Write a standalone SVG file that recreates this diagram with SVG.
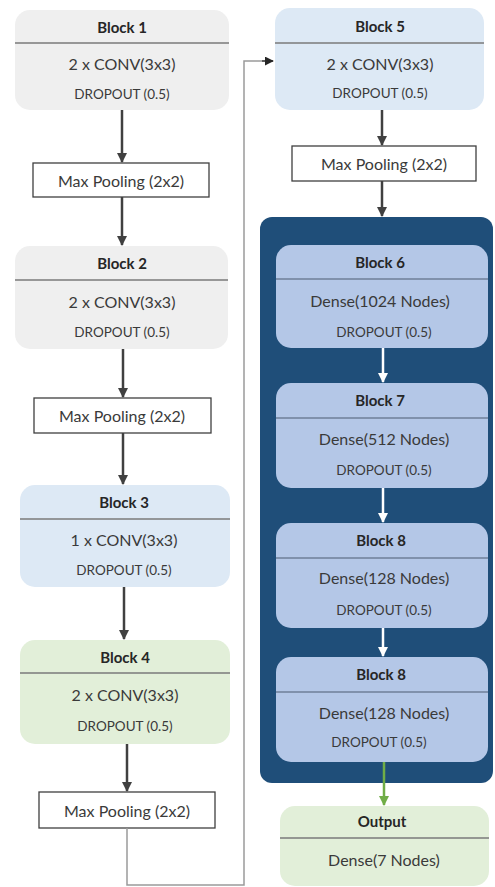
<svg xmlns="http://www.w3.org/2000/svg" width="495" height="887" viewBox="0 0 495 887">
<defs>
<style>
text{font-family:Lato,"Liberation Sans",sans-serif;fill:#3a3a3a;text-anchor:middle;dominant-baseline:central}
.t{font-weight:bold;font-size:15px;fill:#262626}
.m{font-size:16px}
.d{font-size:13.5px}
.grey{fill:#efefef}
.blue{fill:#dde9f5}
.green{fill:#e2efd9}
.dense{fill:#b4c7e7}
.hl{stroke:#7a7a7a;stroke-width:1.5}
.hd{stroke:#6f7f99;stroke-width:1.5}
.mp{fill:#fff;stroke:#3f3f3f;stroke-width:1.3}
.a{stroke:#404040;stroke-width:2.5;fill:none}
.w{stroke:#fff;stroke-width:2.5;fill:none}
.g{stroke:#70ad47;stroke-width:2.5;fill:none}
.c{stroke:#9a9a9a;stroke-width:1.5;fill:none}
</style>
<marker id="ah" viewBox="0 0 10 10" refX="9" refY="5" markerWidth="4" markerHeight="4" orient="auto" markerUnits="strokeWidth"><path d="M0,0L10,5L0,10z" fill="#404040"/></marker>
<marker id="aw" viewBox="0 0 10 10" refX="9" refY="5" markerWidth="4" markerHeight="4" orient="auto" markerUnits="strokeWidth"><path d="M0,0L10,5L0,10z" fill="#fff"/></marker>
<marker id="ag" viewBox="0 0 10 10" refX="9" refY="5" markerWidth="4" markerHeight="4" orient="auto" markerUnits="strokeWidth"><path d="M0,0L10,5L0,10z" fill="#70ad47"/></marker>
<marker id="ac" viewBox="0 0 10 10" refX="9" refY="5" markerWidth="6" markerHeight="6" orient="auto" markerUnits="strokeWidth"><path d="M0,0L10,5L0,10z" fill="#262626"/></marker>
</defs>
<rect width="495" height="887" fill="#fff"/>

<g id="container">
<rect x="260" y="217" width="233" height="566" rx="12" fill="#1f4e79"/>
</g>

<g id="block1">
<rect class="grey" x="15" y="10" width="214" height="100" rx="15"/>
<line class="hl" x1="15" y1="43" x2="229" y2="43"/>
<text class="t" x="122" y="27">Block 1</text>
<text class="m" x="122" y="63">2 x CONV(3x3)</text>
<text class="d" x="122" y="94">DROPOUT (0.5)</text>
</g>
<g id="pool1">
<rect class="mp" x="33" y="163" width="176" height="34"/>
<text class="m" x="121" y="180">Max Pooling (2x2)</text>
</g>
<g id="block2">
<rect class="grey" x="15" y="246" width="213" height="103" rx="15"/>
<line class="hl" x1="15" y1="280" x2="228" y2="280"/>
<text class="t" x="122" y="263">Block 2</text>
<text class="m" x="122" y="301">2 x CONV(3x3)</text>
<text class="d" x="122" y="332">DROPOUT (0.5)</text>
</g>
<g id="pool2">
<rect class="mp" x="34" y="398" width="177" height="35"/>
<text class="m" x="122" y="415.5">Max Pooling (2x2)</text>
</g>
<g id="block3">
<rect class="blue" x="20" y="485" width="210" height="102" rx="15"/>
<line class="hl" x1="20" y1="519" x2="230" y2="519"/>
<text class="t" x="124" y="502">Block 3</text>
<text class="m" x="124" y="539">1 x CONV(3x3)</text>
<text class="d" x="124" y="570">DROPOUT (0.5)</text>
</g>
<g id="block4">
<rect class="green" x="20" y="640" width="210" height="104" rx="15"/>
<line class="hl" x1="20" y1="673" x2="230" y2="673"/>
<text class="t" x="125" y="657">Block 4</text>
<text class="m" x="125" y="694">2 x CONV(3x3)</text>
<text class="d" x="125" y="726">DROPOUT (0.5)</text>
</g>
<g id="pool3">
<rect class="mp" x="39" y="792" width="176" height="36"/>
<text class="m" x="127" y="810">Max Pooling (2x2)</text>
</g>

<g id="block5">
<rect class="blue" x="275" y="8" width="209" height="102" rx="15"/>
<line class="hl" x1="275" y1="43" x2="484" y2="43"/>
<text class="t" x="380" y="26">Block 5</text>
<text class="m" x="380" y="63">2 x CONV(3x3)</text>
<text class="d" x="380" y="93">DROPOUT (0.5)</text>
</g>
<g id="pool4">
<rect class="mp" x="292" y="146" width="184" height="35"/>
<text class="m" x="384" y="163.5">Max Pooling (2x2)</text>
</g>
<g id="block6">
<rect class="dense" x="276" y="245" width="212" height="103" rx="15"/>
<line class="hd" x1="276" y1="279" x2="488" y2="279"/>
<text class="t" x="380" y="262">Block 6</text>
<text class="m" x="380" y="300">Dense(1024 Nodes)</text>
<text class="d" x="384" y="332">DROPOUT (0.5)</text>
</g>
<g id="block7">
<rect class="dense" x="276" y="383" width="212" height="105" rx="15"/>
<line class="hd" x1="276" y1="418" x2="488" y2="418"/>
<text class="t" x="380" y="400">Block 7</text>
<text class="m" x="384" y="438">Dense(512 Nodes)</text>
<text class="d" x="384" y="470">DROPOUT (0.5)</text>
</g>
<g id="block8a">
<rect class="dense" x="276" y="523" width="212" height="105" rx="15"/>
<line class="hd" x1="276" y1="558" x2="488" y2="558"/>
<text class="t" x="381" y="540">Block 8</text>
<text class="m" x="384" y="577">Dense(128 Nodes)</text>
<text class="d" x="384" y="610">DROPOUT (0.5)</text>
</g>
<g id="block8b">
<rect class="dense" x="276" y="657" width="212" height="105" rx="15"/>
<line class="hd" x1="276" y1="692" x2="488" y2="692"/>
<text class="t" x="381" y="674">Block 8</text>
<text class="m" x="384" y="712">Dense(128 Nodes)</text>
<text class="d" x="379" y="742">DROPOUT (0.5)</text>
</g>
<g id="output">
<rect class="green" x="280" y="806" width="209" height="80" rx="15"/>
<line class="hl" x1="280" y1="838" x2="489" y2="838"/>
<text class="t" x="382" y="821">Output</text>
<text class="m" x="384" y="859">Dense(7 Nodes)</text>
</g>

<g id="connectors">
<line class="a" x1="122" y1="110" x2="122" y2="162" marker-end="url(#ah)"/>
<line class="a" x1="122" y1="197" x2="122" y2="245" marker-end="url(#ah)"/>
<line class="a" x1="123" y1="349" x2="123" y2="397" marker-end="url(#ah)"/>
<line class="a" x1="123" y1="433" x2="123" y2="484" marker-end="url(#ah)"/>
<line class="a" x1="124" y1="587" x2="124" y2="639" marker-end="url(#ah)"/>
<line class="a" x1="127" y1="744" x2="127" y2="791" marker-end="url(#ah)"/>
<path class="c" d="M127,828V885H244V61H262"/>
<line stroke="#262626" stroke-width="1.5" x1="262" y1="61" x2="273" y2="61" marker-end="url(#ac)"/>
<line class="a" x1="382" y1="110" x2="382" y2="145" marker-end="url(#ah)"/>
<line class="a" x1="382" y1="181" x2="382" y2="216" marker-end="url(#ah)"/>
<line class="w" x1="383" y1="348" x2="383" y2="382" marker-end="url(#aw)"/>
<line class="w" x1="383" y1="488" x2="383" y2="522" marker-end="url(#aw)"/>
<line class="w" x1="383" y1="628" x2="383" y2="656" marker-end="url(#aw)"/>
<line class="g" x1="384" y1="762" x2="384" y2="805" marker-end="url(#ag)"/>
</g>
</svg>
